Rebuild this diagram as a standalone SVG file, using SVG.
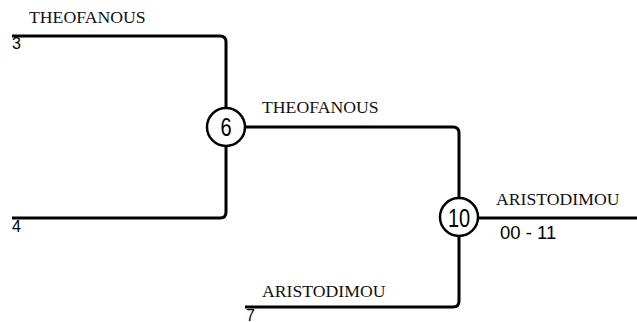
<svg xmlns="http://www.w3.org/2000/svg" width="637" height="322" viewBox="0 0 637 322">
<style>
.ln{fill:none;stroke:#000;stroke-width:3;stroke-linejoin:round}
.nm{font-family:"Liberation Serif",serif;font-size:17.7px;fill:#111}
.sd{font-family:"Liberation Sans",sans-serif;font-size:16px;fill:#000}
.sc{font-family:"Liberation Sans",sans-serif;font-size:18.5px;fill:#000}
.cn{fill:#fff;stroke:#000;stroke-width:2.5}
.cl{font-family:"Liberation Sans",sans-serif;font-size:20px;fill:#000;text-anchor:middle}
</style>
<rect width="637" height="322" fill="#fff"/>
<g id="connectors">
<path class="ln" d="M12 36 H220 Q226 36 226 42 V212 Q226 218 220 218 H12"/>
<path class="ln" d="M226 127 H453 Q459 127 459 133 V301 Q459 307 453 307 H245"/>
<path class="ln" d="M459 218 H637"/>
</g>
<g id="labels">
<text class="nm" x="29" y="23">THEOFANOUS</text>
<text class="sd" x="12" y="49">3</text>
<text class="sd" x="12" y="232">4</text>
<text class="nm" x="262" y="113">THEOFANOUS</text>
<text class="nm" x="496" y="205">ARISTODIMOU</text>
<text class="sc" x="500" y="239">00 - 11</text>
<text class="nm" x="262" y="297">ARISTODIMOU</text>
<text class="sd" x="246" y="321">7</text>
</g>
<g id="node6">
<circle class="cn" cx="226" cy="127" r="19"/>
<text class="cl" transform="translate(226,136.3) scale(1,1.3)">6</text>
</g>
<g id="node10">
<circle class="cn" cx="459" cy="217" r="19"/>
<text class="cl" transform="translate(459,226.8) scale(1,1.3)">10</text>
</g>
</svg>
